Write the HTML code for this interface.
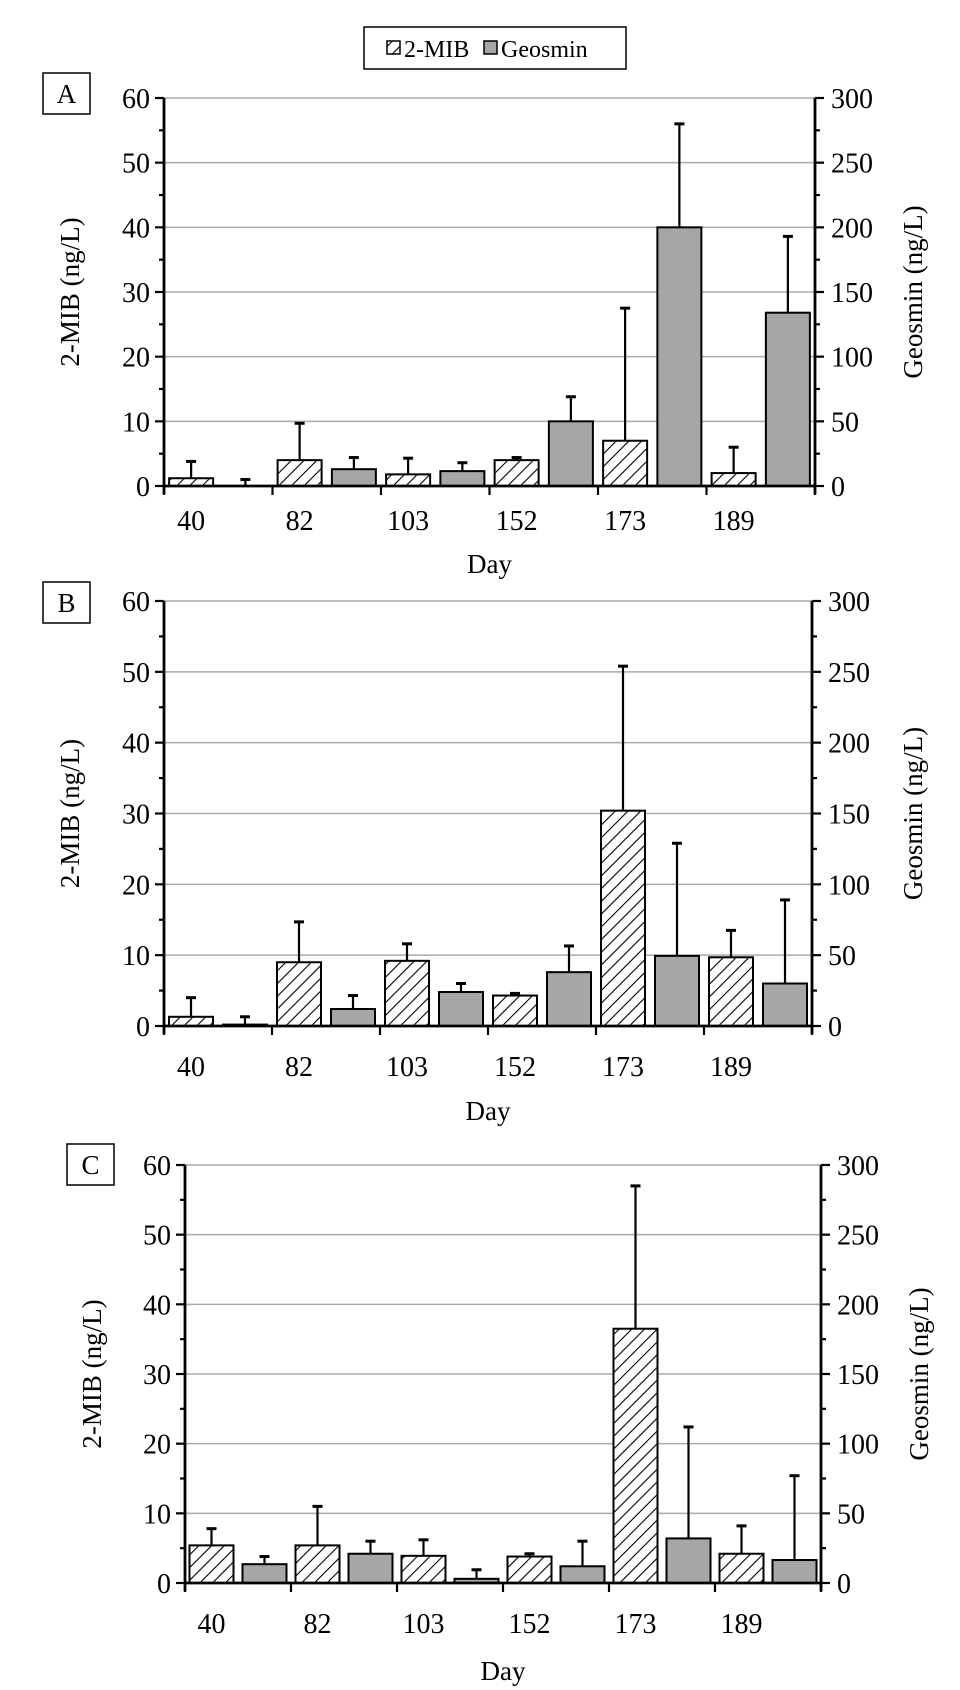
<!DOCTYPE html>
<html><head><meta charset="utf-8"><style>
body{margin:0;background:#fff}
svg{display:block;font-family:"Liberation Serif",serif}
</style></head><body>
<svg id="s" width="960" height="1690" xmlns="http://www.w3.org/2000/svg">
<defs>
<pattern id="h" patternUnits="userSpaceOnUse" width="9" height="9" patternTransform="rotate(45)">
<rect width="9" height="9" fill="#fff"/><line x1="0" y1="0" x2="0" y2="9" stroke="#000" stroke-width="2.2"/>
</pattern>
</defs>
<rect x="364" y="27" width="262" height="42" fill="#fff" stroke="#000" stroke-width="1.5"/>
<rect x="387" y="41" width="13" height="13" fill="url(#h)" stroke="#000" stroke-width="1.5"/>
<text x="404" y="57" font-size="24">2-MIB</text>
<rect x="484" y="41" width="13" height="13" fill="#a6a6a6" stroke="#000" stroke-width="1.5"/>
<text x="501" y="57" font-size="24">Geosmin</text>
</svg>
<script>
var s=document.getElementById('s'),out='';
function panel(L,R,T,B,lab,bx,by,lx,rx,dayY,tl,data){
 var sc=(B-T)/60,w=(R-L)/12;
 for(var v=10;v<=60;v+=10){var y=B-v*sc;out+='<line x1="'+L+'" x2="'+R+'" y1="'+y+'" y2="'+y+'" stroke="#aaa" stroke-width="1.5"/>';}
 for(var i=0;i<12;i++){var d=data[i],x=L+i*w+(w-44)/2,cx=x+22,top=B-d[0]*sc,et=B-d[1]*sc;
  out+='<line x1="'+cx+'" x2="'+cx+'" y1="'+top+'" y2="'+et+'" stroke="#000" stroke-width="2.2"/><line x1="'+(cx-5)+'" x2="'+(cx+5)+'" y1="'+et+'" y2="'+et+'" stroke="#000" stroke-width="3"/>';
  if(d[0]>0.05)out+='<rect x="'+x+'" y="'+top+'" width="44" height="'+(B-top)+'" fill="'+(i%2?'#a6a6a6':'url(#h)')+'" stroke="#000" stroke-width="2"/>';}
 out+='<line x1="'+L+'" x2="'+L+'" y1="'+T+'" y2="'+(B+8)+'" stroke="#000" stroke-width="2.8"/>';
 out+='<line x1="'+R+'" x2="'+R+'" y1="'+T+'" y2="'+(B+8)+'" stroke="#000" stroke-width="2.8"/>';
 out+='<line x1="'+L+'" x2="'+R+'" y1="'+B+'" y2="'+B+'" stroke="#000" stroke-width="2.8"/>';
 for(var k=0;k<=12;k++){var y=B-k*5*sc,len=(k%2)?5:9;
  out+='<line x1="'+(L-len)+'" x2="'+L+'" y1="'+y+'" y2="'+y+'" stroke="#000" stroke-width="2.2"/>';
  out+='<line x1="'+R+'" x2="'+(R+len)+'" y1="'+y+'" y2="'+y+'" stroke="#000" stroke-width="2.2"/>';
  if(k%2==0){out+='<text x="'+(L-14)+'" y="'+(y+10)+'" font-size="28" text-anchor="end">'+(k*5)+'</text>';
   out+='<text x="'+(R+16)+'" y="'+(y+10)+'" font-size="28">'+(k*25)+'</text>';}}
 for(var j=0;j<=6;j++){var x=L+j*2*w;out+='<line x1="'+x+'" x2="'+x+'" y1="'+B+'" y2="'+(B+9)+'" stroke="#000" stroke-width="2.2"/>';}
 var days=['40','82','103','152','173','189'];
 for(var j=0;j<6;j++)out+='<text x="'+(L+j*2*w+w/2)+'" y="'+(B+tl)+'" font-size="28" text-anchor="middle">'+days[j]+'</text>';
 out+='<text x="'+((L+R)/2)+'" y="'+dayY+'" font-size="27" text-anchor="middle">Day</text>';
 var my=(T+B)/2;
 out+='<text transform="translate('+lx+','+my+') rotate(-90)" font-size="27" text-anchor="middle">2-MIB  (ng/L)</text>';
 out+='<text transform="translate('+rx+','+my+') rotate(-90)" font-size="27" text-anchor="middle">Geosmin  (ng/L)</text>';
 out+='<rect x="'+bx+'" y="'+by+'" width="47" height="41" fill="#fff" stroke="#000" stroke-width="1.5"/><text x="'+(bx+23.5)+'" y="'+(by+30)+'" font-size="27" text-anchor="middle">'+lab+'</text>';
}
panel(164,815,98,486,'A',43,73,79,922,573,44,[[1.2,3.8],[0,1.0],[4,9.7],[2.6,4.4],[1.8,4.3],[2.3,3.6],[4,4.4],[10,13.8],[7,27.5],[40,56],[2,6],[26.8,38.6]]);
panel(164,812,601,1026,'B',43,582,79,922,1120,50,[[1.3,4],[0.2,1.3],[9,14.7],[2.4,4.3],[9.2,11.6],[4.8,6],[4.3,4.6],[7.6,11.3],[30.4,50.8],[9.9,25.8],[9.7,13.5],[6,17.8]]);
panel(185,821,1165,1583,'C',67,1144,101,928,1680,50,[[5.4,7.8],[2.7,3.8],[5.4,11],[4.2,6],[3.9,6.2],[0.6,1.9],[3.8,4.2],[2.4,6],[36.5,57],[6.4,22.4],[4.2,8.2],[3.3,15.4]]);
s.insertAdjacentHTML('beforeend',out);
</script>
</body></html>
